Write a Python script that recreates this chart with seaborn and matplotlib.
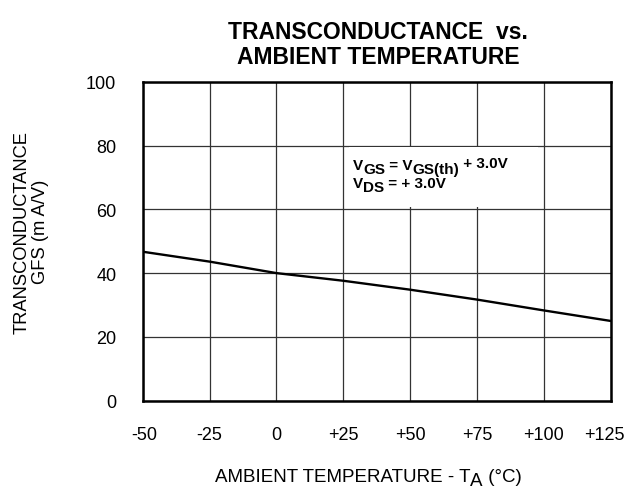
import matplotlib
matplotlib.use("Agg")
import matplotlib.pyplot as plt
import matplotlib.transforms as mtransforms
import seaborn as sns
import pandas as pd
from matplotlib.patches import Rectangle

temperature = [-50, -25, 0, 25, 50, 75, 100, 125]
gfs = [46.7, 43.6, 40.0, 37.6, 34.8, 31.7, 28.3, 25.0]
x_ticks = [-50, -25, 0, 25, 50, 75, 100, 125]
x_tick_labels = ["-50", "-25", "0", "+25", "+50", "+75", "+100", "+125"]
y_ticks = [0, 20, 40, 60, 80, 100]
y_tick_labels = ["0", "20", "40", "60", "80", "100"]

W, H = 629, 489

sns.set_theme(style="white")
plt.rcParams['font.family'] = ['Liberation Sans', 'DejaVu Sans']

df = pd.DataFrame({"T": temperature, "G": gfs})

fig = plt.figure(figsize=(W / 100, H / 100), dpi=100)
ax = fig.add_axes([142.7 / W, 1 - 401.7 / H, (610.7 - 142.7) / W, (401.7 - 82.7) / H])

sns.lineplot(data=df, x="T", y="G", ax=ax, color="black", linewidth=1.7, zorder=3)

ax.set_xlim(-50, 125)
ax.set_ylim(0, 100)
ax.set_xticks(x_ticks)
ax.set_xticklabels(x_tick_labels)
ax.set_yticks(y_ticks)
ax.set_yticklabels(y_tick_labels)
ax.grid(True, color="#333333", linewidth=0.9)
ax.set_axisbelow(True)
for s in ax.spines.values():
    s.set_color("black")
    s.set_linewidth(1.8)
ax.tick_params(axis="both", length=0, labelsize=13, colors="black")
ax.tick_params(axis="x", pad=18)
ax.tick_params(axis="y", pad=19)
ax.set_xlabel("")
ax.set_ylabel("")

# nudge the outermost x tick labels slightly inward, as in the reference
xl = ax.get_xticklabels()
xl[0].set_transform(xl[0].get_transform() + mtransforms.ScaledTranslation(2 / 100, 0, fig.dpi_scale_trans))
xl[-1].set_transform(xl[-1].get_transform() + mtransforms.ScaledTranslation(-6 / 100, 0, fig.dpi_scale_trans))

# white box behind annotation
ax.add_patch(Rectangle((27, 60.6), 71, 18.8, facecolor="white", edgecolor="none", zorder=2))

renderer = fig.canvas.get_renderer()


def rich_text(x_px, y_px, pieces, size, weight="normal", ha="left"):
    widths = []
    for s, dy in pieces:
        t = fig.text(0, 0, s, fontsize=size, fontweight=weight)
        widths.append(t.get_window_extent(renderer).width)
        t.remove()
    total = sum(widths)
    start = x_px - total / 2 if ha == "center" else x_px
    for (s, dy), w in zip(pieces, widths):
        fig.text(start / W, 1 - (y_px + dy) / H, s, fontsize=size, fontweight=weight,
                 ha="left", va="baseline", color="black", zorder=5)
        start += w


rich_text(353, 170.5, [("V", 0), ("GS", 4), (" = V", 0), ("GS(th)", 4), (" + 3.0V", -2)],
          size=11, weight="bold")
rich_text(353, 188, [("V", 0), ("DS", 4.5), (" = + 3.0V", 0)], size=11, weight="bold")

# x label
rich_text(368, 481.7, [("AMBIENT TEMPERATURE - T", 0), ("A", 4), (" (°C)", 0)], size=13.5, ha="center")

# y label
fig.text(31.5 / W, 1 - 232 / H, "TRANSCONDUCTANCE\nGFS (m A/V)", fontsize=13.2, rotation=90,
         ha="center", va="center", linespacing=1.15, color="black")

fig.text(378 / W, 1 - 45 / H, "TRANSCONDUCTANCE  vs.\nAMBIENT TEMPERATURE", fontsize=16.5, fontweight="bold",
         ha="center", va="center", linespacing=1.12, color="black")

fig.savefig("out.png", dpi=100, facecolor="white")
